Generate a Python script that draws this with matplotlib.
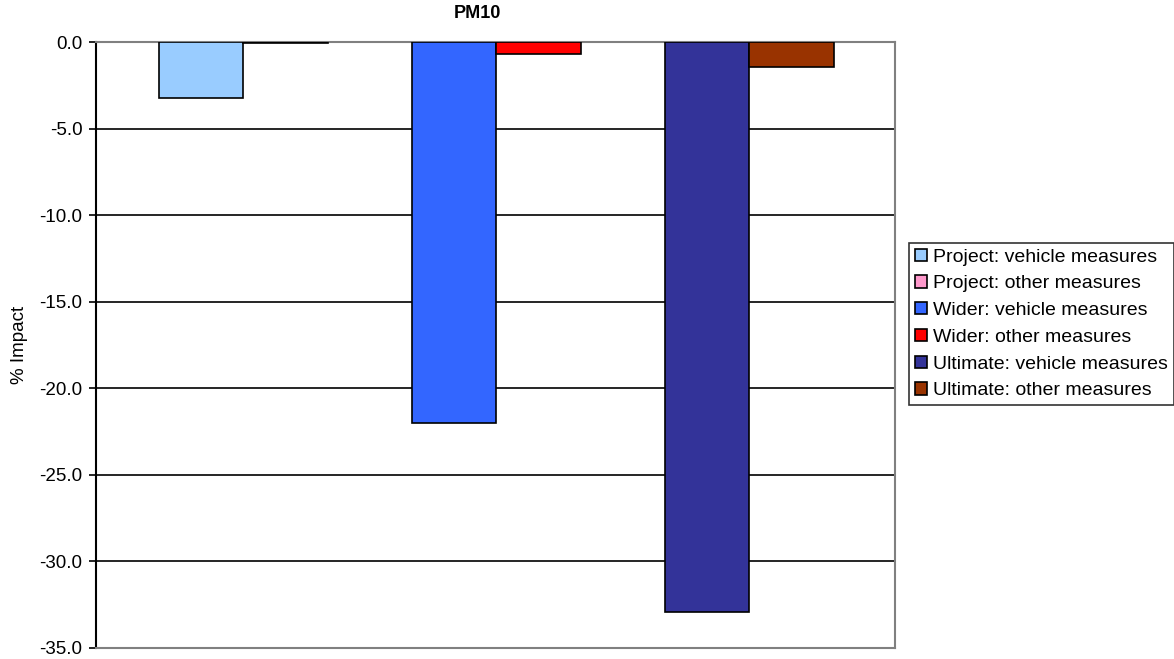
import matplotlib
matplotlib.use("Agg")
import matplotlib.pyplot as plt
from matplotlib.patches import Rectangle

plt.rcParams['font.family'] = ['Liberation Sans', 'DejaVu Sans']

title = "PM10"
series_names = [
    "Project: vehicle measures",
    "Project: other measures",
    "Wider: vehicle measures",
    "Wider: other measures",
    "Ultimate: vehicle measures",
    "Ultimate: other measures",
]
series_colors = ["#99CCFF", "#FF99CC", "#3366FF", "#FF0000", "#333399", "#993300"]
vehicle_values = [-3.2, -22.0, -32.9]
other_values = [-0.02, -0.7, -1.4]
y_ticks = [0.0, -5.0, -10.0, -15.0, -20.0, -25.0, -30.0, -35.0]

W, H = 1174, 659
fig = plt.figure(figsize=(W / 100, H / 100), dpi=100)
left, right, top, bottom = 95.7, 895.0, 42.3, 648.0
ax = fig.add_axes([left / W, 1 - bottom / H, (right - left) / W, (bottom - top) / H])

bw = 1 / 3
xs = range(len(vehicle_values))
for i in xs:
    ax.bar(i - bw / 2, vehicle_values[i], width=bw, color=series_colors[2 * i],
           edgecolor="black", linewidth=1.2, zorder=3)
    ax.bar(i + bw / 2, other_values[i], width=bw, color=series_colors[2 * i + 1],
           edgecolor="black", linewidth=1.2, zorder=3)

ax.set_xlim(-0.5835, 2.575)
ax.set_ylim(-35, 0)
ax.set_yticks(y_ticks)
ax.set_yticklabels([f"{v:.1f}" for v in y_ticks], fontsize=13.5)
ax.set_xticks([])
ax.yaxis.grid(True, color="black", linewidth=1.2, zorder=1)
ax.set_axisbelow(True)
ax.tick_params(axis="y", length=5, width=1.2, color="black", pad=4.5)
for side in ("top", "right", "bottom"):
    ax.spines[side].set_color("#808080")
    ax.spines[side].set_linewidth(1.5)
ax.spines["left"].set_color("black")
ax.spines["left"].set_linewidth(1.5)
ax.set_ylabel("% Impact", fontsize=13.5, labelpad=8)

fig.text(477 / W, 1 - 14 / H, title, ha="center", va="center",
         fontsize=13, fontweight="bold")

handles = [Rectangle((0, 0), 1, 1, facecolor=c, edgecolor="black", linewidth=1.2)
           for c in series_colors]
leg = fig.legend(handles, series_names, loc="upper left",
                 bbox_to_anchor=(909 / W, 1 - 242.7 / H),
                 fontsize=14, frameon=True, fancybox=False,
                 handlelength=0.6, handleheight=0.6, handletextpad=0.35,
                 labelspacing=0.5, borderpad=0.3, borderaxespad=0)
leg.get_frame().set_edgecolor("black")
leg.get_frame().set_linewidth(1.2)

fig.savefig("out.png", dpi=100)
